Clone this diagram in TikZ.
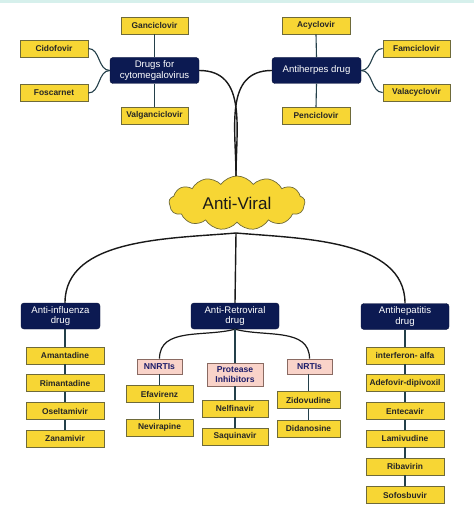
\documentclass[tikz,border=0pt]{standalone}
\usepackage{fontspec}
\setmainfont{Liberation Sans}
\usetikzlibrary{shapes.symbols}
\definecolor{drugfill}{HTML}{F7D634}
\definecolor{drugline}{HTML}{6E6A3A}
\definecolor{navy}{HTML}{0C1A52}
\definecolor{pinkfill}{HTML}{F9D3C9}
\definecolor{pinkline}{HTML}{8A6A62}
\definecolor{linkcol}{HTML}{24404A}
\definecolor{band}{HTML}{D6F0EC}
\definecolor{pinktext}{HTML}{1C1C6A}
\tikzset{
  drug/.style={draw=drugline, fill=drugfill, line width=0.7pt, inner sep=1pt,
    minimum height=17pt, font=\bfseries\fontsize{8.4}{9}\selectfont, text=black!85},
  cls/.style={fill=navy, draw=navy!70!black, rounded corners=3pt, text=white, align=center,
    inner sep=1pt, minimum height=26pt, font=\fontsize{9.6}{10.6}\selectfont},
  sub/.style={draw=pinkline, fill=pinkfill, line width=0.7pt, inner sep=1pt, align=center,
    text=pinktext, font=\bfseries\fontsize{8.6}{9.4}\selectfont},
  link/.style={draw=linkcol, line width=1.1pt},
  mainlink/.style={draw=black!90, line width=1.4pt},
}
\begin{document}
\begin{tikzpicture}[x=1pt,y=-1pt]
\useasboundingbox (0,0) rectangle (474,526);
\fill[white] (0,0) rectangle (474,526);
\fill[band] (0,0) rectangle (474,3.5);

% central cloud
\node[cloud, cloud puffs=13, cloud puff arc=110, aspect=2.5, draw=drugline, fill=drugfill,
  line width=0.7pt, minimum width=136pt, minimum height=54pt, inner sep=0pt,
  font=\fontsize{17}{19}\selectfont, text=black!90] (av) at (237,203) {Anti-Viral};
\coordinate (avtop) at (236,176);
\coordinate (avbot) at (236,233);

% CMV group
\node[cls, minimum width=89pt] (cmv) at (154.5,70.5) {Drugs for\\cytomegalovirus};
\node[drug, minimum width=67pt] (gan) at (154.5,25.5) {Ganciclovir};
\node[drug, minimum width=68pt] (cid) at (54,48.5) {Cidofovir};
\node[drug, minimum width=68pt] (fos) at (54,93) {Foscarnet};
\node[drug, minimum width=67pt] (val) at (154.5,115.5) {Valganciclovir};

% Antiherpes group
\node[cls, minimum width=89pt] (ah) at (316.5,70.5) {Antiherpes drug};
\node[drug, minimum width=68pt] (acy) at (316,25.5) {Acyclovir};
\node[drug, minimum width=67pt] (fam) at (416.5,48.5) {Famciclovir};
\node[drug, minimum width=67pt] (vala) at (416.5,92.5) {Valacyclovir};
\node[drug, minimum width=68pt] (pen) at (316,116) {Penciclovir};

% Anti-influenza
\node[cls, minimum width=79pt] (inf) at (60.5,316) {Anti-influenza\\drug};
\node[drug, minimum width=78pt] (ama) at (65,355.5) {Amantadine};
\node[drug, minimum width=78pt] (rim) at (65,383) {Rimantadine};
\node[drug, minimum width=78pt] (ose) at (65,411) {Oseltamivir};
\node[drug, minimum width=78pt] (zan) at (65,438.5) {Zanamivir};

% Anti-retroviral
\node[cls, minimum width=88pt] (arv) at (235,316) {Anti-Retroviral\\drug};
\node[sub, minimum width=45pt, minimum height=15pt] (nnrti) at (159.5,366.5) {NNRTIs};
\node[sub, minimum width=56pt, minimum height=23pt] (prot) at (235,374.5) {Protease\\Inhibitors};
\node[sub, minimum width=45pt, minimum height=15pt] (nrti) at (309.5,366.5) {NRTIs};
\node[drug, minimum width=67pt] (efa) at (159.5,394) {Efavirenz};
\node[drug, minimum width=67pt] (nev) at (159.5,427.5) {Nevirapine};
\node[drug, minimum width=66pt] (nel) at (235,408.5) {Nelfinavir};
\node[drug, minimum width=66pt] (saq) at (235,436.5) {Saquinavir};
\node[drug, minimum width=63pt] (zid) at (308.5,400) {Zidovudine};
\node[drug, minimum width=63pt] (did) at (308.5,428.5) {Didanosine};

% Antihepatitis
\node[cls, minimum width=88pt] (hep) at (405,316.5) {Antihepatitis\\drug};
\node[drug, minimum width=78pt] (ifn) at (405,355.5) {interferon- alfa};
\node[drug, minimum width=78pt] (ade) at (405,383) {Adefovir-dipivoxil};
\node[drug, minimum width=78pt] (ent) at (405,411) {Entecavir};
\node[drug, minimum width=78pt] (lam) at (405,438.5) {Lamivudine};
\node[drug, minimum width=78pt] (rib) at (405,466.5) {Ribavirin};
\node[drug, minimum width=78pt] (sof) at (405,495) {Sofosbuvir};

% main connectors
\draw[mainlink] (avtop) to[out=90,in=0,looseness=1.1] (cmv.east);
\draw[mainlink] (avtop) to[out=90,in=180,looseness=1.1] (ah.west);
\draw[mainlink] (avbot) to[out=185,in=90,looseness=0.9] (inf.north -| ama.north);
\draw[mainlink] (avbot) to[out=-5,in=90,looseness=0.9] (hep.north);
\draw[mainlink] (avbot) -- (arv.north);

% CMV links
\draw[link] (cmv.north) -- (gan.south);
\draw[link] (cmv.south) -- (val.north);
\draw[link] (cmv.west) to[out=180,in=0] (cid.east);
\draw[link] (cmv.west) to[out=180,in=0] (fos.east);
% Antiherpes links
\draw[link] (ah.north) -- (acy.south);
\draw[link] (ah.south) -- (pen.north);
\draw[link] (ah.east) to[out=0,in=180] (fam.west);
\draw[link] (ah.east) to[out=0,in=180] (vala.west);

% influenza chain
\draw[link] (inf.south -| ama.north) -- (ama.north);
\draw[link] (ama) -- (rim);
\draw[link] (rim) -- (ose);
\draw[link] (ose) -- (zan);

% retroviral
\draw[mainlink, line width=1.2pt] (arv.south) to[out=195,in=90] (nnrti.north);
\draw[mainlink, line width=1.2pt] (arv.south) to[out=-15,in=90] (nrti.north);
\draw[link] (arv.south) -- (prot.north);
\draw[link] (nnrti) -- (efa);
\draw[link] (efa) -- (nev);
\draw[link] (prot) -- (nel);
\draw[link] (nel) -- (saq);
\draw[link] (nrti.south -| zid.north) -- (zid.north);
\draw[link] (zid) -- (did);

% hepatitis chain
\draw[link] (hep) -- (ifn);
\draw[link] (ifn) -- (ade);
\draw[link] (ade) -- (ent);
\draw[link] (ent) -- (lam);
\draw[link] (lam) -- (rib);
\draw[link] (rib) -- (sof);
\end{tikzpicture}
\end{document}
